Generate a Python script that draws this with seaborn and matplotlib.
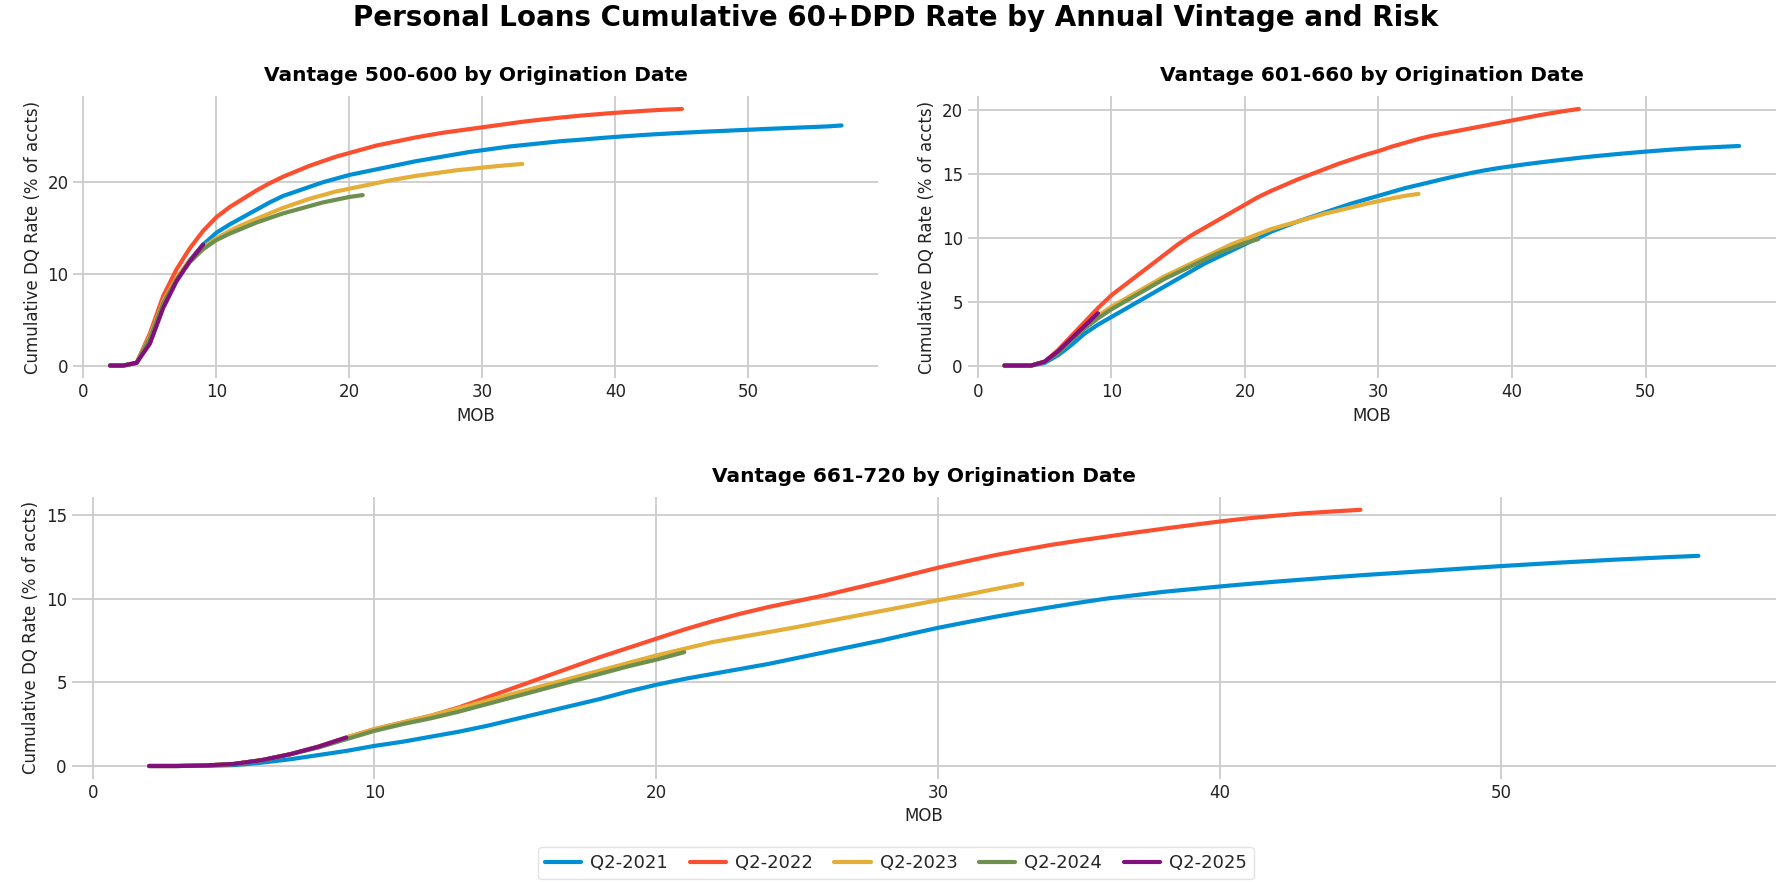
import matplotlib
matplotlib.use("Agg")
import matplotlib.pyplot as plt
from matplotlib.ticker import MultipleLocator
import pandas as pd
import seaborn as sns

# Vintages and colours
vintages = ['Q2-2021', 'Q2-2022', 'Q2-2023', 'Q2-2024', 'Q2-2025']
colors = ['#008fd5', '#fc4f30', '#e5ae38', '#6d904f', '#810f7c']

# Months on book covered by each vintage
mob_2021 = list(range(2, 58))
mob_2022 = list(range(2, 46))
mob_2023 = list(range(2, 34))
mob_2024 = list(range(2, 22))
mob_2025 = list(range(2, 10))

# Vantage 500-600
v500_2021 = [0.0, 0.0, 0.3, 3.0, 6.8, 9.4, 11.5, 13.2, 14.5, 15.4, 16.2, 17.0, 17.8, 18.5,
             19.0, 19.5, 20.0, 20.4, 20.8, 21.1, 21.4, 21.7, 22.0, 22.3, 22.55, 22.8, 23.05,
             23.3, 23.5, 23.7, 23.9, 24.05, 24.2, 24.35, 24.5, 24.6, 24.72, 24.84, 24.95,
             25.05, 25.15, 25.24, 25.32, 25.4, 25.47, 25.54, 25.6, 25.67, 25.73, 25.8, 25.86,
             25.92, 25.98, 26.04, 26.1, 26.2]
v500_2022 = [0.0, 0.0, 0.3, 3.5, 7.6, 10.5, 12.8, 14.7, 16.2, 17.3, 18.2, 19.1, 19.9, 20.6,
             21.2, 21.8, 22.3, 22.8, 23.2, 23.6, 24.0, 24.3, 24.6, 24.9, 25.15, 25.4, 25.6,
             25.8, 26.0, 26.2, 26.4, 26.6, 26.77, 26.93, 27.08, 27.22, 27.35, 27.47, 27.58,
             27.68, 27.78, 27.87, 27.94, 28.0]
v500_2023 = [0.0, 0.0, 0.3, 3.2, 7.0, 9.6, 11.5, 12.9, 13.9, 14.7, 15.4, 16.0, 16.6, 17.2,
             17.7, 18.2, 18.6, 19.0, 19.3, 19.6, 19.9, 20.2, 20.45, 20.7, 20.9, 21.1, 21.3,
             21.45, 21.6, 21.75, 21.88, 22.0]
v500_2024 = [0.0, 0.0, 0.3, 3.0, 6.8, 9.4, 11.3, 12.7, 13.7, 14.4, 15.0, 15.6, 16.1, 16.6,
             17.0, 17.4, 17.8, 18.1, 18.4, 18.6]
v500_2025 = [0.0, 0.0, 0.3, 2.4, 6.3, 9.2, 11.4, 13.2]

# Vantage 601-660
v601_2021 = [0.0, 0.0, 0.0, 0.2, 0.8, 1.6, 2.5, 3.2, 3.8, 4.4, 5.0, 5.6, 6.2, 6.8, 7.4, 8.0,
             8.5, 9.0, 9.5, 10.0, 10.5, 10.9, 11.3, 11.65, 12.0, 12.35, 12.7, 13.0, 13.3,
             13.6, 13.9, 14.15, 14.4, 14.65, 14.88, 15.1, 15.3, 15.47, 15.62, 15.77, 15.9,
             16.03, 16.15, 16.27, 16.38, 16.48, 16.58, 16.67, 16.76, 16.84, 16.92, 16.99,
             17.05, 17.1, 17.15, 17.2]
v601_2022 = [0.0, 0.0, 0.0, 0.3, 1.2, 2.3, 3.4, 4.5, 5.5, 6.3, 7.1, 7.9, 8.7, 9.5, 10.2, 10.8,
             11.4, 12.0, 12.6, 13.2, 13.7, 14.15, 14.6, 15.0, 15.4, 15.8, 16.15, 16.5, 16.8,
             17.15, 17.45, 17.75, 18.0, 18.2, 18.4, 18.6, 18.8, 19.0, 19.2, 19.4, 19.6, 19.78,
             19.95, 20.1]
v601_2023 = [0.0, 0.0, 0.0, 0.3, 1.0, 2.0, 3.0, 3.9, 4.6, 5.2, 5.8, 6.4, 7.0, 7.5, 8.0, 8.5,
             9.0, 9.5, 9.9, 10.3, 10.7, 11.0, 11.3, 11.6, 11.9, 12.15, 12.4, 12.65, 12.88,
             13.1, 13.3, 13.45]
v601_2024 = [0.0, 0.0, 0.0, 0.3, 1.0, 2.0, 2.9, 3.7, 4.4, 5.0, 5.6, 6.2, 6.8, 7.3, 7.8, 8.3,
             8.8, 9.2, 9.6, 9.9]
v601_2025 = [0.0, 0.0, 0.0, 0.3, 1.1, 2.1, 3.1, 4.1]

# Vantage 661-720
v661_2021 = [0.0, 0.0, 0.01, 0.05, 0.2, 0.4, 0.65, 0.9, 1.2, 1.45, 1.75, 2.05, 2.4, 2.8, 3.2,
             3.6, 4.0, 4.45, 4.85, 5.2, 5.5, 5.8, 6.1, 6.45, 6.8, 7.15, 7.5, 7.88, 8.25, 8.58,
             8.9, 9.2, 9.48, 9.75, 10.0, 10.2, 10.4, 10.56, 10.72, 10.87, 11.01, 11.14, 11.27,
             11.39, 11.5, 11.61, 11.72, 11.83, 11.94, 12.04, 12.14, 12.23, 12.32, 12.4,
             12.48, 12.55]
v661_2022 = [0.0, 0.0, 0.03, 0.12, 0.35, 0.7, 1.15, 1.7, 2.2, 2.6, 3.0, 3.5, 4.1, 4.7, 5.3,
             5.9, 6.5, 7.05, 7.6, 8.15, 8.65, 9.1, 9.5, 9.85, 10.2, 10.6, 11.0, 11.42, 11.84,
             12.22, 12.58, 12.9, 13.2, 13.46, 13.7, 13.94, 14.17, 14.39, 14.6, 14.79, 14.95,
             15.09, 15.2, 15.3]
v661_2023 = [0.0, 0.0, 0.03, 0.12, 0.35, 0.7, 1.15, 1.7, 2.2, 2.6, 3.0, 3.45, 3.9, 4.35, 4.8,
             5.25, 5.7, 6.15, 6.6, 7.0, 7.4, 7.7, 8.0, 8.3, 8.62, 8.94, 9.26, 9.58, 9.9, 10.22,
             10.56, 10.88]
v661_2024 = [0.0, 0.0, 0.03, 0.12, 0.35, 0.7, 1.1, 1.6, 2.1, 2.5, 2.85, 3.25, 3.7, 4.15, 4.6,
             5.05, 5.5, 5.95, 6.35, 6.8]
v661_2025 = [0.0, 0.0, 0.03, 0.12, 0.35, 0.7, 1.15, 1.7]

mobs = [mob_2021, mob_2022, mob_2023, mob_2024, mob_2025]


def build_frame(series):
    rows = []
    for vintage, mob, vals in zip(vintages, mobs, series):
        for m, v in zip(mob, vals):
            rows.append({'MOB': m, 'rate': v, 'vintage': vintage})
    return pd.DataFrame(rows)


df_500 = build_frame([v500_2021, v500_2022, v500_2023, v500_2024, v500_2025])
df_601 = build_frame([v601_2021, v601_2022, v601_2023, v601_2024, v601_2025])
df_661 = build_frame([v661_2021, v661_2022, v661_2023, v661_2024, v661_2025])

sns.set_theme(style="whitegrid")
plt.rcParams['font.family'] = ['DejaVu Sans']
plt.rcParams['grid.color'] = '#cbcbcb'
plt.rcParams['grid.linewidth'] = 1.3

fig = plt.figure(figsize=(17.92, 8.82), dpi=100)
ax1 = fig.add_axes([0.041, 0.571, 0.449, 0.320])
ax2 = fig.add_axes([0.540, 0.571, 0.451, 0.320])
ax3 = fig.add_axes([0.040, 0.117, 0.951, 0.3195])

panels = [
    (ax1, df_500, 'Vantage 500-600 by Origination Date', 10),
    (ax2, df_601, 'Vantage 601-660 by Origination Date', 5),
    (ax3, df_661, 'Vantage 661-720 by Origination Date', 5),
]

for ax, df, title, ystep in panels:
    sns.lineplot(data=df, x='MOB', y='rate', hue='vintage', hue_order=vintages,
                 palette=colors, linewidth=3, ax=ax, legend=(ax is ax1))
    ax.set_title(title, fontsize=14.5, fontweight='bold', pad=11, color='black')
    ax.set_xlabel('MOB', fontsize=12, color='#222222')
    ax.set_ylabel('Cumulative DQ Rate (% of accts)', fontsize=12, color='#222222')
    ax.xaxis.set_major_locator(MultipleLocator(10))
    ax.yaxis.set_major_locator(MultipleLocator(ystep))
    ax.tick_params(axis='both', labelsize=12, length=0, colors='#222222')
    ax.set_facecolor('white')
    for s in ax.spines.values():
        s.set_visible(False)

handles, labels = ax1.get_legend_handles_labels()
ax1.get_legend().remove()
fig.legend(handles, labels, loc='upper center', bbox_to_anchor=(0.5, 0.05), ncol=5,
           fontsize=13, frameon=True, edgecolor='#dddddd', columnspacing=1.2,
           handletextpad=0.5)

fig.suptitle('Personal Loans Cumulative 60+DPD Rate by Annual Vintage and Risk',
             fontsize=20, fontweight='bold', y=0.995, color='black')

fig.savefig('out.png', dpi=100, facecolor='white')
